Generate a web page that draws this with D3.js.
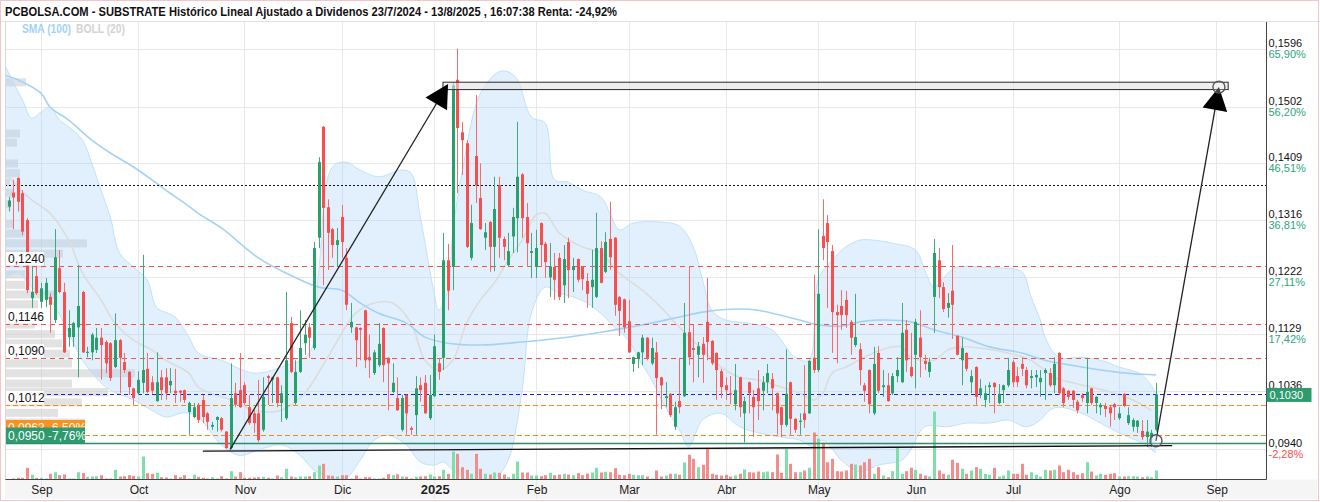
<!DOCTYPE html>
<html><head><meta charset="utf-8">
<script src="https://cdn.jsdelivr.net/npm/d3@7"></script>
<style>body{margin:0;background:#fff}svg{display:block}</style>
</head><body><svg id="c" width="1320" height="502"></svg>
<script>
// ---------------- DATA ----------------
const titleText = "PCBOLSA.COM - SUBSTRATE Histórico Lineal Ajustado a Dividenos 23/7/2024 - 13/8/2025 , 16:07:38 Renta: -24,92%";
const opens = [
.1338,.1361,.1385,.1360,.1316,.1188,.1224,.1182,.1185,.1190,
.1152,.1237,.1198,.1124,.1124,.1140,.1198,.1098,.1099,.1103,
.1123,.1116,.1114,.1075,.1119,.1083,.1067,.1040,.1032,.1049,
.1072,.1050,.1019,.1058,.1058,.1045,.1036,.1036,.1037,.1001,
.0993,.1013,.1021,.0999,.0977,.0988,.0991,.0969,.0942,.1032,
.1037,.1045,.1009,.0999,.0999,.0972,.1060,.1054,.1058,.1016,
.0991,.1147,.1016,.1067,.1114,.1140,.1106,.1287,.1469,.1337,
.1301,.1275,.1321,.1254,.1140,.1140,.1139,.1168,.1091,.1065,
.1078,.1139,.1090,.1034,.1024,.0972,.1029,.0975,.0996,.1045,
.1049,.0991,.1027,.1081,.1090,.1250,.1239,.1546,.1460,.1442,
.1254,.1421,.1352,.1287,.1313,.1272,.1373,.1285,.1242,.1289,
.1319,.1391,.1321,.1262,.1239,.1311,.1277,.1222,.1239,.1254,
.1209,.1280,.1234,.1252,.1239,.1216,.1206,.1190,.1270,.1231,
.1285,.1287,.1190,.1186,.1150,.1080,.1088,.1099,.1123,.1081,
.1099,.1058,.1024,.1031,.0977,.1019,.1027,.1132,.1106,.1095,
.1113,.1149,.1118,.1098,.1068,.1045,.1032,.1014,.1058,.0999,
.1050,.1026,.1040,.1036,.1050,.1055,.1032,.1009,.0980,.1050,
.0990,.0985,.0999,.0999,.1090,.1070,.1290,.1311,.1265,.1165,
.1175,.1185,.1149,.1111,.1104,.1045,.1070,.0999,.1098,.1042,
.1045,.1032,.1060,.1050,.1136,.1075,.1095,.1123,.1085,.1067,
.1190,.1250,.1206,.1172,.1200,.1126,.1086,.1098,.1050,.1075,
.1031,.1021,.1042,.1049,.1016,.1037,.1045,.1083,.1060,.1080,
.1070,.1057,.1058,.1050,.1065,.1065,.1045,.1098,.1040,.1036,
.1036,.1018,.1029,.1016,.1040,.1016,.1009,.1011,.1009,.1014,
.0991,.1031,.0983,.0977,.0977,.0970,.0960,.0959,.0972];
const highs = [
.1354,.1382,.1386,.1365,.1319,.1240,.1239,.1213,.1221,.1196,
.1301,.1267,.1213,.1168,.1149,.1242,.1200,.1108,.1131,.1139,
.1139,.1119,.1116,.1163,.1121,.1098,.1068,.1041,.1068,.1259,
.1098,.1060,.1099,.1070,.1073,.1073,.1072,.1037,.1038,.1018,
.1016,.1016,.1029,.1001,.0985,.0994,.0993,.0970,.1081,.1049,
.1098,.1050,.1029,.1004,.1054,.1058,.1062,.1059,.1059,.1045,
.1198,.1157,.1086,.1168,.1152,.1147,.1280,.1419,.1470,.1350,
.1303,.1303,.1341,.1270,.1180,.1141,.1140,.1169,.1128,.1103,
.1147,.1140,.1091,.1081,.1058,.1029,.1030,.0978,.1060,.1058,
.1062,.1062,.1128,.1090,.1295,.1277,.1542,.1597,.1477,.1447,
.1341,.1521,.1409,.1311,.1314,.1387,.1387,.1289,.1295,.1336,
.1477,.1393,.1344,.1295,.1300,.1312,.1280,.1278,.1262,.1262,
.1275,.1287,.1254,.1253,.1240,.1229,.1267,.1328,.1281,.1296,
.1346,.1288,.1191,.1187,.1185,.1092,.1100,.1128,.1124,.1123,
.1116,.1059,.1050,.1032,.1018,.1090,.1180,.1240,.1144,.1116,
.1124,.1221,.1119,.1099,.1072,.1058,.1060,.1080,.1059,.1026,
.1051,.1037,.1070,.1060,.1080,.1065,.1033,.1010,.1104,.1051,
.0991,.0999,.1078,.1086,.1226,.1301,.1350,.1324,.1275,.1177,
.1201,.1200,.1152,.1195,.1114,.1049,.1071,.1108,.1109,.1070,
.1065,.1065,.1091,.1180,.1152,.1131,.1154,.1168,.1095,.1090,
.1285,.1270,.1214,.1196,.1275,.1127,.1123,.1099,.1070,.1076,
.1055,.1045,.1050,.1050,.1047,.1046,.1090,.1086,.1075,.1091,
.1075,.1070,.1070,.1070,.1073,.1073,.1091,.1099,.1042,.1037,
.1037,.1021,.1032,.1090,.1041,.1027,.1016,.1016,.1013,.1016,
.1009,.1032,.1009,.0991,.0988,.0988,.0988,.0972,.1049];
const lows = [
.1330,.1301,.1330,.1291,.1196,.1172,.1193,.1172,.1173,.1131,
.1147,.1196,.1098,.1108,.1108,.1058,.1098,.1091,.1086,.1098,
.1054,.1065,.1052,.1073,.1032,.1065,.1029,.1013,.1029,.1032,
.1032,.1031,.1018,.1021,.1021,.1032,.1016,.1018,.1016,.0964,
.0991,.0983,.0983,.0972,.0972,.0969,.0969,.0941,.0940,.1009,
.1008,.1013,.0980,.0967,.0952,.0969,.1013,.1016,.1009,.0985,
.0988,.1065,.1013,.1065,.1095,.1090,.1103,.1270,.1209,.1234,
.1254,.1239,.1254,.1168,.1131,.1075,.1086,.1073,.1057,.1062,
.1075,.1050,.1004,.1032,.1003,.0969,.0964,.0964,.0964,.1018,
.0998,.0988,.1026,.1054,.1070,.1168,.1201,.1360,.1390,.1270,
.1250,.1344,.1300,.1267,.1231,.1232,.1254,.1250,.1239,.1262,
.1263,.1287,.1239,.1221,.1221,.1239,.1221,.1190,.1185,.1185,
.1180,.1188,.1198,.1214,.1201,.1172,.1172,.1188,.1212,.1229,
.1234,.1159,.1126,.1131,.1098,.1067,.1073,.1078,.1086,.1078,
.0964,.1006,.1009,.0993,.0972,.0999,.1026,.1078,.1050,.1058,
.1049,.1086,.1078,.1021,.1024,.1021,.1014,.1004,.0993,.0951,
.0999,.0960,.0988,.1004,.1032,.1004,.0964,.0960,.0977,.0964,
.0967,.0964,.0975,.0998,.1065,.1067,.1250,.1172,.1098,.1081,
.1136,.1139,.1095,.1108,.1045,.1018,.0999,.0996,.1032,.1026,
.1018,.1029,.1050,.1049,.1067,.1058,.1040,.1058,.1070,.1058,
.1131,.1188,.1165,.1156,.1121,.1094,.1045,.1068,.1032,.1013,
.1024,.1009,.1016,.0999,.1014,.1016,.1042,.1042,.1042,.1060,
.1040,.1040,.1042,.1026,.1021,.1042,.1032,.1029,.1009,.1021,
.1008,.0999,.1018,.0999,.1013,.0999,.0996,.0993,.0977,.0988,
.0988,.1009,.0980,.0969,.0967,.0955,.0944,.0944,.0969];
const closes = [
.1348,.1353,.1346,.1297,.1201,.1198,.1196,.1204,.1213,.1177,
.1255,.1198,.1099,.1139,.1147,.1175,.1099,.1100,.1128,.1123,
.1111,.1081,.1057,.1119,.1090,.1070,.1042,.1024,.1054,.1070,
.1034,.1036,.1050,.1037,.1032,.1052,.1032,.1033,.1021,.1016,
.1009,.0988,.0993,.0985,.0980,.0993,.0972,.0942,.1024,.1013,
.1009,.1016,.0983,.0983,.0955,.1026,.1057,.1058,.1016,.1032,
.1086,.1067,.1067,.1106,.1128,.1123,.1270,.1411,.1336,.1295,
.1275,.1283,.1280,.1177,.1149,.1119,.1136,.1086,.1086,.1099,
.1113,.1078,.1081,.1049,.1004,.1024,.0999,.0972,.1040,.1037,
.0999,.1029,.1109,.1067,.1250,.1200,.1537,.1467,.1447,.1272,
.1311,.1373,.1301,.1296,.1272,.1334,.1287,.1272,.1265,.1321,
.1387,.1319,.1278,.1265,.1270,.1275,.1247,.1240,.1218,.1190,
.1252,.1234,.1240,.1218,.1219,.1195,.1218,.1270,.1213,.1280,
.1255,.1177,.1167,.1140,.1099,.1091,.1099,.1123,.1090,.1106,
.1057,.1045,.1027,.0996,.1009,.1009,.1131,.1091,.1103,.1109,
.1095,.1116,.1081,.1070,.1042,.1037,.1031,.1037,.1009,.1019,
.1032,.1009,.1019,.1050,.1065,.1040,.0999,.0980,.1031,.0990,
.0972,.0987,.0988,.1085,.1070,.1195,.1270,.1280,.1165,.1160,
.1160,.1160,.1123,.1124,.1070,.1036,.1014,.1080,.1036,.1045,
.1019,.1060,.1070,.1131,.1086,.1060,.1149,.1091,.1080,.1083,
.1262,.1206,.1170,.1180,.1177,.1095,.1106,.1072,.1060,.1026,
.1040,.1032,.1045,.1042,.1031,.1045,.1070,.1050,.1050,.1072,
.1045,.1060,.1062,.1057,.1070,.1045,.1080,.1032,.1016,.1026,
.1021,.1004,.1024,.1034,.1016,.1026,.1013,.1006,.0999,.1009,
.0999,.1011,.0996,.0988,.0987,.0960,.0969,.0967,.1030];
const volumes = [
5,10,17,17,117,47,17,17,10,57, 73,43,50,10,10,73,63,27,30,33,
43,10,10,97,30,33,43,37,30,230, 63,57,67,23,20,10,43,23,43,10,
47,27,17,10,23,10,33,10,83,30, 73,17,17,20,23,27,17,10,40,23,
107,30,23,30,30,33,73,140,157,40, 37,30,43,43,10,40,10,23,23,10,
10,17,53,43,53,30,27,10,27,30, 33,50,30,33,97,57,280,257,123,97,
57,257,107,57,50,70,67,50,23,57, 180,70,70,40,40,33,43,67,43,50,
57,50,43,63,43,60,70,117,70,77, 73,113,47,43,57,47,43,43,30,10,
90,30,40,57,57,47,170,247,207,123, 147,317,57,47,40,47,30,40,57,100,
73,70,80,73,80,73,250,67,307,157, 73,73,90,117,470,410,370,173,207,83,
80,90,157,150,140,173,207,57,123,40, 23,83,317,57,83,117,97,57,40,30,
680,90,57,47,197,167,107,57,90,123, 107,57,47,117,30,40,90,57,57,157,
47,73,47,30,97,90,97,140,73,97, 73,47,63,173,80,40,57,47,57,63,
30,30,33,33,30,23,30,23,90];

// Bollinger (20) and SMA (100): [candle index, price]
const bollUpper = [[-1,.1573],[3,.1513],[5,.1483],[7,.1493],[9,.1501],[11,.1480],[13,.1469],[16,.1447],[18,.1409],[20,.1365],[22,.1321],[24,.1262],[27,.1239],[30,.1218],[32,.1173],[36,.1157],[39,.1124],[41,.1098],[46,.1086],[53,.1065],[59,.1075],[65,.1098],[67,.1229],[70,.1403],[73,.1411],[76,.1398],[80,.1387],[85,.1398],[87,.1393],[89,.1321],[92,.1196],[93,.1168],[95,.1201],[96,.1295],[98,.1393],[102,.1524],[106,.1559],[108,.1559],[110,.1546],[113,.1485],[116,.1475],[118,.1382],[121,.1378],[124,.1365],[128,.1354],[130,.1327],[132,.1300],[135,.1311],[140,.1313],[145,.1306],[148,.1272],[150,.1218],[152,.1168],[155,.1152],[160,.1147],[165,.1136],[167,.1119],[170,.1091],[173,.1086],[175,.1218],[178,.1250],[181,.1272],[184,.1283],[187,.1283],[191,.1278],[196,.1267],[198,.1234],[200,.1206],[203,.1229],[205,.1239],[210,.1239],[215,.1237],[219,.1231],[221,.1190],[223,.1152],[224,.1124],[227,.1091],[232,.1091],[236,.1086],[240,.1075],[245,.1062],[248,.1032]];
const bollLower = [[-1,.1218],[2,.1229],[5,.1206],[9,.1185],[13,.1131],[16,.1086],[20,.1049],[22,.1037],[27,.1021],[31,.1004],[34,.0993],[38,.1000],[41,.0993],[46,.0947],[50,.0930],[54,.0939],[59,.0947],[63,.0930],[66,.0906],[70,.0893],[73,.0893],[76,.0922],[79,.0955],[82,.0963],[86,.0947],[89,.0919],[92,.0914],[94,.0919],[96,.0906],[99,.0890],[102,.0881],[105,.0890],[108,.0922],[111,.1037],[113,.1163],[116,.1206],[119,.1196],[122,.1190],[125,.1180],[128,.1163],[131,.1140],[134,.1119],[136,.1091],[139,.1054],[142,.1009],[145,.0972],[147,.0944],[150,.0988],[154,.0999],[158,.0977],[162,.0967],[167,.0960],[171,.0955],[174,.0944],[176,.0955],[180,.0922],[184,.0903],[188,.0914],[193,.0922],[195,.0939],[198,.0977],[203,.0977],[207,.0983],[212,.0983],[216,.0988],[220,.0977],[223,.0988],[225,.1004],[227,.1009],[232,.0999],[236,.0983],[240,.0967],[245,.0950],[248,.0934]];
const bollMid = [[-1,.1398],[2,.1370],[5,.1349],[9,.1327],[13,.1283],[16,.1229],[20,.1185],[23,.1147],[27,.1119],[31,.1103],[34,.1086],[39,.1065],[41,.1042],[48,.1021],[53,.1004],[59,.1004],[64,.1032],[69,.1091],[75,.1163],[79,.1180],[83,.1180],[87,.1147],[90,.1086],[93,.1070],[96,.1086],[99,.1147],[102,.1185],[105,.1213],[108,.1250],[111,.1283],[114,.1324],[116,.1327],[119,.1295],[124,.1272],[128,.1262],[132,.1229],[137,.1201],[141,.1173],[145,.1140],[150,.1103],[154,.1075],[158,.1058],[162,.1054],[167,.1042],[171,.1032],[174,.1021],[176,.1032],[178,.1065],[181,.1075],[186,.1095],[190,.1106],[193,.1108],[195,.1091],[200,.1086],[203,.1103],[206,.1108],[210,.1106],[216,.1098],[221,.1086],[226,.1058],[230,.1049],[234,.1042],[239,.1032],[243,.1021],[247,.1004]];
const sma100 = [[-1,.1554],[2,.1546],[7,.1524],[9,.1501],[13,.1480],[18,.1447],[22,.1426],[27,.1403],[31,.1382],[34,.1365],[38,.1344],[41,.1327],[46,.1303],[54,.1254],[60,.1229],[67,.1206],[72,.1201],[76,.1180],[80,.1163],[86,.1147],[90,.1124],[95,.1114],[102,.1111],[111,.1116],[119,.1122],[128,.1132],[137,.1144],[145,.1157],[150,.1165],[158,.1170],[162,.1168],[171,.1152],[175,.1144],[180,.1142],[184,.1149],[188,.1152],[195,.1149],[200,.1136],[206,.1124],[212,.1108],[219,.1098],[224,.1086],[232,.1075],[239,.1067],[245,.1063],[248,.1062]];

// volume profile (price bin centre, relative volume)
const profilePrices = [.1541,.1457,.1442,.1408,.1392,.1377,.1360,.1341,.1309,.1293,.1277,.1260,.1244,.1226,.1209,.1193,.1177,.1160,.1144,.1128,.1113,.1096,.1080,.1064,.1047,.1033,.1016,.0999,.0983,.0967];
const profileVols   = [21,15,12,13,15,5,8,6,8,20,82,58,40,20,20,50,33,25,30,50,57,65,67,130,67,103,77,53,80,60];

// axes
const monthLabels = ["Sep","Oct","Nov","Dic","2025","Feb","Mar","Abr","May","Jun","Jul","Ago","Sep"];
const monthIdx    = [7,28,51,72,92,114,134,155,175,196,217,240,261];
const priceTicks  = [0.1596,0.1502,0.1409,0.1316,0.1222,0.1129,0.1036,0.0940];
const tickLabels  = ["0,1596","0,1502","0,1409","0,1316","0,1222","0,1129","0,1036","0,0940"];
const pctLabels   = ["65,90%","56,20%","46,51%","36,81%","27,11%","17,42%","7,72%","-2,28%"];

// horizontal levels
const dottedLevel = 0.1373;
const redLevels = [0.1240,0.1146,0.1090];
const redLabels = ["0,1240","0,1146","0,1090"];
const blueLevel = 0.1030;
const blueLabel = "0,1030";
const orangeLevels = [0.1012,0.0963];
const orangeLabels = ["0,1012","0,0963  -6,50%"];
const greenLevel = 0.0950;
const greenLabel = "0,0950  -7,76%";

// drawings: [index, price]
const trendLine = [[42,.0937],[251.5,.0946]];
const arrow1 = [[47.9,.0940],[95.0,.1539]];
const arrow2 = [[248,.0954],[261.6,.1534]];
const boxRect = [[93.9,.1542],[263.6,.1530]];
const markerCircles = [[261.6,.1534],[248,.0954]];

// ---------------- DRAW ----------------
const W=1320,H=502, L=5, R=1266.5, T=22, B=479.5;
const svg = d3.select("#c");
const FONT = "'Liberation Sans', Arial, sans-serif";
const x  = d3.scaleLinear().domain([0,248]).range([8.5,1156]);
const y  = d3.scaleLinear().domain([0.0940,0.1596]).range([449.3,49.3]);
const yv = d3.scaleLinear().domain([0,700]).range([B,B-70]);
const xp = d3.scaleLinear().domain([0,130]).range([0,130]);

svg.append("rect").attr("width",W).attr("height",H).attr("fill","#fff");
svg.append("defs").append("clipPath").attr("id","clip")
  .append("rect").attr("x",L).attr("y",T).attr("width",R-L).attr("height",B-T);

// bottom strip
svg.append("rect").attr("x",L).attr("y",B).attr("width",1317-L).attr("height",19.5).attr("fill","#f5f5f5");

// grid
const grid = svg.append("g");
grid.selectAll("line.h").data(priceTicks).join("line")
  .attr("x1",L).attr("x2",R).attr("y1",d=>Math.round(y(d))+0.5).attr("y2",d=>Math.round(y(d))+0.5)
  .attr("stroke","#e8e8e8");
grid.selectAll("line.v").data(monthIdx).join("line")
  .attr("x1",d=>Math.round(x(d))+0.5).attr("x2",d=>Math.round(x(d))+0.5)
  .attr("y1",T).attr("y2",499).attr("stroke","#e8e8e8");

const plot = svg.append("g").attr("clip-path","url(#clip)");

// volume profile
plot.selectAll("rect.vp").data(profilePrices).join("rect")
  .attr("x",L).attr("y",d=>y(d+0.00074)).attr("height",d=>y(d-0.00074)-y(d+0.00074)-1)
  .attr("width",(d,i)=>xp(profileVols[i])).attr("fill","#cfcfcf").attr("opacity",0.6);

// Bollinger band
const curve = d3.line().x(d=>x(d[0])).y(d=>y(d[1])).curve(d3.curveCatmullRom.alpha(0.5));
const pu = curve(bollUpper), pl = curve(bollLower.slice().reverse());
plot.append("path").attr("d", pu + pl.replace(/^M/,"L") + "Z").attr("fill","#a6d4f5").attr("opacity",0.34);
plot.append("path").attr("d",pu).attr("fill","none").attr("stroke","#bfe1f8").attr("stroke-width",1);
plot.append("path").attr("d",curve(bollLower)).attr("fill","none").attr("stroke","#bfe1f8").attr("stroke-width",1);
plot.append("path").attr("d",curve(bollMid)).attr("fill","none").attr("stroke","#dcdcdc").attr("stroke-width",1.6);
plot.append("path").attr("d",curve(sma100)).attr("fill","none").attr("stroke","#a3d2f6").attr("stroke-width",1.6);

const idx = d3.range(closes.length);
const up = i => closes[i] >= opens[i];
const cx = i => Math.round(x(i));

// volume bars
plot.selectAll("rect.vol").data(idx).join("rect")
  .attr("x",i=>cx(i)-1).attr("width",3)
  .attr("y",i=>yv(volumes[i])).attr("height",i=>B-yv(volumes[i]))
  .attr("fill",i=>up(i)?"#7fdfaa":"#f48c8c");

// level lines
const lv = plot.append("g");
lv.append("line").attr("x1",L).attr("x2",R).attr("y1",Math.round(y(dottedLevel))+0.5).attr("y2",Math.round(y(dottedLevel))+0.5)
  .attr("stroke","#111").attr("stroke-dasharray","2,2");
lv.selectAll("line.r").data(redLevels).join("line")
  .attr("x1",L).attr("x2",R).attr("y1",d=>Math.round(y(d))+0.5).attr("y2",d=>Math.round(y(d))+0.5)
  .attr("stroke","#ff4d4d").attr("stroke-dasharray","5,4");
lv.append("line").attr("x1",L).attr("x2",R).attr("y1",Math.round(y(blueLevel))+0.5).attr("y2",Math.round(y(blueLevel))+0.5)
  .attr("stroke","#1a1aff").attr("stroke-dasharray","4,3");
lv.selectAll("line.o").data(orangeLevels).join("line")
  .attr("x1",L).attr("x2",R).attr("y1",d=>Math.round(y(d))+0.5).attr("y2",d=>Math.round(y(d))+0.5)
  .attr("stroke","#f08a1c").attr("stroke-dasharray","5,3");
lv.append("line").attr("x1",L).attr("x2",R).attr("y1",Math.round(y(greenLevel))+0.5).attr("y2",Math.round(y(greenLevel))+0.5)
  .attr("stroke","#2e8c6c").attr("stroke-width",1.3);

// candles
plot.selectAll("line.wick").data(idx).join("line")
  .attr("x1",i=>cx(i)+0.5).attr("x2",i=>cx(i)+0.5)
  .attr("y1",i=>y(highs[i])).attr("y2",i=>y(lows[i]))
  .attr("stroke",i=>up(i)?"#3fa97f":"#f96a6a").attr("stroke-width",1);
plot.selectAll("rect.body").data(idx).join("rect")
  .attr("x",i=>cx(i)-1).attr("width",3)
  .attr("y",i=>y(Math.max(opens[i],closes[i])))
  .attr("height",i=>Math.max(1.2, Math.abs(y(opens[i])-y(closes[i]))))
  .attr("fill",i=>up(i)?"#26a06d":"#fa4d4d");

// drawings
const dr = plot.append("g");
dr.append("line").attr("x1",x(trendLine[0][0])).attr("y1",y(trendLine[0][1]))
  .attr("x2",x(trendLine[1][0])).attr("y2",y(trendLine[1][1])).attr("stroke","#111").attr("stroke-width",1.4);
dr.append("rect").attr("x",x(boxRect[0][0])).attr("y",y(boxRect[0][1]))
  .attr("width",x(boxRect[1][0])-x(boxRect[0][0])).attr("height",y(boxRect[1][1])-y(boxRect[0][1]))
  .attr("fill","#e4e4e4").attr("fill-opacity",0.6).attr("stroke","#3a3a3a").attr("stroke-width",1.1);
function drawArrow(a){
  const x0=x(a[0][0]), y0=y(a[0][1]), x1=x(a[1][0]), y1=y(a[1][1]);
  const d=Math.hypot(x1-x0,y1-y0), ux=(x1-x0)/d, uy=(y1-y0)/d, len=23, hw=12.5;
  const bx=x1-ux*len, by=y1-uy*len, px=-uy, py=ux;
  dr.append("line").attr("x1",x0).attr("y1",y0).attr("x2",bx+ux*3).attr("y2",by+uy*3)
    .attr("stroke","#222").attr("stroke-width",1.3);
  dr.append("path").attr("d",`M${x1},${y1}L${bx+px*hw},${by+py*hw}L${bx-px*hw},${by-py*hw}Z`).attr("fill","#000");
}
drawArrow(arrow1); drawArrow(arrow2);
dr.selectAll("circle").data(markerCircles).join("circle")
  .attr("cx",d=>x(d[0])).attr("cy",d=>y(d[1])).attr("r",6)
  .attr("fill","rgba(255,255,255,0.25)").attr("stroke","#555").attr("stroke-width",1.4);

// left labels
const ll = svg.append("g").attr("font-family",FONT).attr("font-size",12);
redLevels.forEach((lvl,k)=>{
  const yy = Math.round(y(lvl));
  ll.append("rect").attr("x",L).attr("y",yy-14).attr("width",39).attr("height",13.5).attr("fill","#fff");
  ll.append("text").attr("x",L+3).attr("y",yy-3).attr("fill","#111").text(redLabels[k]);
});
{
  const y1 = Math.round(y(orangeLevels[0]));
  ll.append("rect").attr("x",L).attr("y",y1-14).attr("width",39).attr("height",13.5).attr("fill","#fff");
  ll.append("text").attr("x",L+3).attr("y",y1-3).attr("fill","#111").text(orangeLabels[0]);
  const yo = Math.round(y(orangeLevels[1]));
  ll.append("rect").attr("x",L).attr("y",yo-15).attr("width",80).attr("height",15).attr("fill","#f7931e");
  ll.append("text").attr("x",L+3).attr("y",yo-3.5).attr("fill","#fff").text(orangeLabels[1]);
  const yg = Math.round(y(greenLevel));
  ll.append("rect").attr("x",L).attr("y",yg-15.5).attr("width",80).attr("height",15.5).attr("fill","#2e9a6e");
  ll.append("text").attr("x",L+3).attr("y",yg-3.5).attr("fill","#fff").text(greenLabel);
}

// frame lines
svg.append("line").attr("x1",L).attr("x2",R).attr("y1",B).attr("y2",B).attr("stroke","#444");
svg.append("line").attr("x1",R).attr("x2",R).attr("y1",T).attr("y2",B).attr("stroke","#444");
svg.append("line").attr("x1",L+0.5).attr("x2",L+0.5).attr("y1",T).attr("y2",B).attr("stroke","#d8d8d8");
svg.append("line").attr("x1",0).attr("x2",W).attr("y1",T-0.5).attr("y2",T-0.5).attr("stroke","#e2e2e2");

// right axis labels
const ra = svg.append("g").attr("font-family",FONT).attr("font-size",11);
priceTicks.forEach((p,k)=>{
  const yy = Math.round(y(p));
  ra.append("text").attr("x",R+2).attr("y",yy-2).attr("fill","#111").text(tickLabels[k]);
  ra.append("text").attr("x",R+2).attr("y",yy+9).attr("fill",p<0.0962?"#ff4d4d":"#2ea57a").text(pctLabels[k]);
});
{
  const yb = y(blueLevel);
  ra.append("rect").attr("x",R).attr("y",yb-6.5).attr("width",45).attr("height",14).attr("fill","#2e9a6e");
  ra.append("text").attr("x",R+3).attr("y",yb+4.5).attr("fill","#fff").text(blueLabel);
}

// month labels
svg.append("g").attr("font-family",FONT).selectAll("text").data(monthIdx).join("text")
  .attr("x",d=>x(d)+1).attr("y",494).attr("text-anchor","middle")
  .attr("font-size",(d,i)=>monthLabels[i]==="2025"?13:12)
  .attr("font-weight",(d,i)=>monthLabels[i]==="2025"?"bold":"normal")
  .attr("fill","#222").text((d,i)=>monthLabels[i]);

// title + legend
const NF = "'Liberation Sans Narrow','Liberation Sans',Arial,sans-serif";
svg.append("text").attr("x",5).attr("y",16).attr("font-family",NF).attr("font-weight","bold")
  .attr("font-size",12.5).attr("fill","#111").attr("textLength",612).attr("lengthAdjust","spacingAndGlyphs").text(titleText);
svg.append("text").attr("x",22).attr("y",33).attr("font-family",NF).attr("font-weight","bold")
  .attr("font-size",12.5).attr("fill","#a3d2f6").attr("textLength",49).attr("lengthAdjust","spacingAndGlyphs").text("SMA (100)");
svg.append("text").attr("x",76).attr("y",33).attr("font-family",NF).attr("font-weight","bold")
  .attr("font-size",12.5).attr("fill","#d3d3d3").attr("textLength",49).attr("lengthAdjust","spacingAndGlyphs").text("BOLL (20)");

// outer border
svg.append("rect").attr("x",0.5).attr("y",0.5).attr("width",1318).attr("height",500)
  .attr("fill","none").attr("stroke","#f2c6c6");
</script></body></html>
